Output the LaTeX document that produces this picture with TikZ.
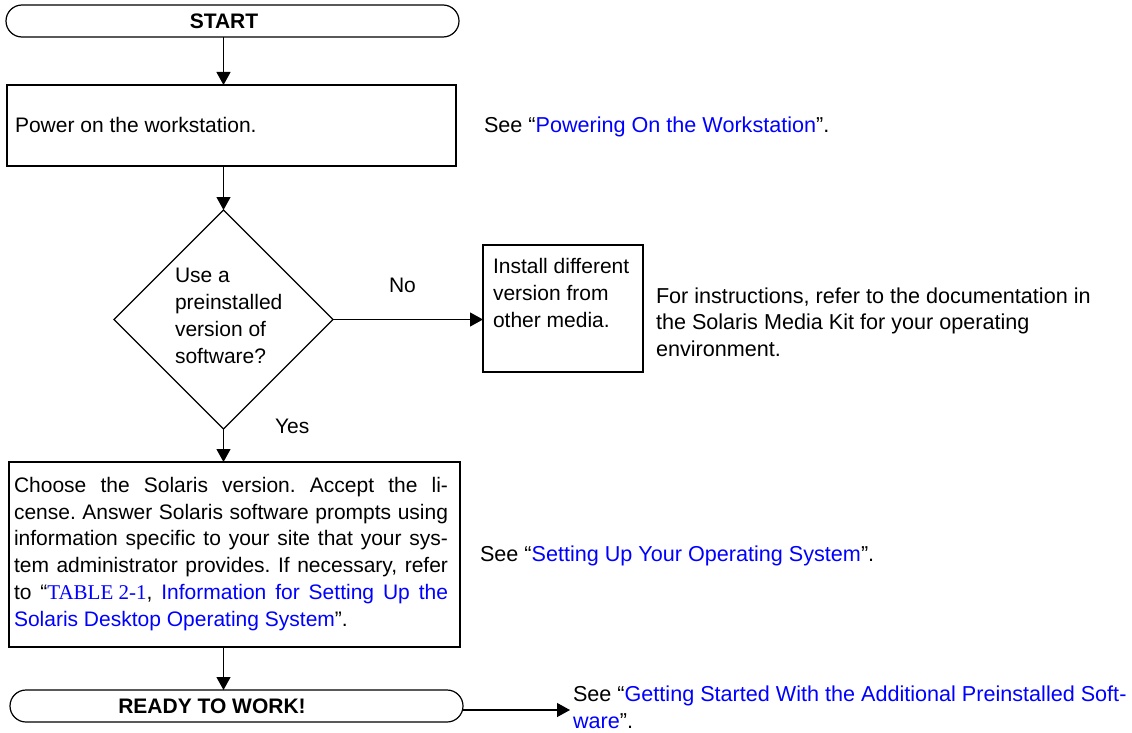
\documentclass[tikz,border=0pt]{standalone}
\usepackage{fontspec}
\setmainfont{Liberation Sans}
\newfontfamily\serifrm{Liberation Serif}
\usetikzlibrary{shapes.geometric,arrows.meta}
\definecolor{linkblue}{RGB}{0,0,255}
\frenchspacing
\begin{document}
\begin{tikzpicture}[x=1pt,y=-1pt,
  every node/.style={font=\fontsize{21pt}{26.7pt}\selectfont\frenchspacing, inner sep=0pt, outer sep=0pt},
  box/.style={draw, line width=1.2pt, rectangle},
  term/.style={draw, line width=1.2pt, rectangle, rounded corners=16pt, minimum height=32pt},
  flow/.style={line width=1.2pt, -{Triangle[length=13pt,width=14pt]}},
  lbl/.style={anchor=base west},
  side/.style={anchor=base west, font=\fontsize{21.6pt}{26.5pt}\selectfont\frenchspacing},
  boldlbl/.style={anchor=base, font=\bfseries\fontsize{21pt}{26.7pt}\selectfont},
]
\useasboundingbox (0,0) rectangle (1132,733);

% terminals and boxes
\node[term, minimum width=453pt] (start) at (232.5,21) {};
\node[boldlbl] (startt) at (224,29) {START};

\node[box, minimum width=449pt, minimum height=81pt] (power) at (231.5,125.5) {};
\node[lbl] (powert) at (15,132) {Power on the workstation.};

\node[draw, diamond, line width=1.2pt, minimum width=219pt, minimum height=219pt] (dec) at (223.5,319.5) {};
\node[lbl, align=left] (dect) at (175,363) {Use a\\preinstalled\\version of\\software?};

\node[box, minimum width=160pt, minimum height=127pt] (inst) at (563,308.5) {};
\node[lbl, align=left] (instt) at (493,327) {Install different\\version from\\other media.};

\node[box, minimum width=451pt, minimum height=185pt] (choose) at (234.5,554.5) {};
\node[lbl, align=left] (chooset) at (14,626) {%
\makebox[434pt][s]{Choose the Solaris version. Accept the li-}\\
\makebox[434pt][s]{cense. Answer Solaris software prompts using}\\
\makebox[434pt][s]{information specific to your site that your sys-}\\
\makebox[434pt][s]{tem administrator provides. If necessary, refer}\\
\makebox[434pt][s]{to “\textcolor{linkblue}{\serifrm\mbox{TABLE 2-1}}, \textcolor{linkblue}{Information for Setting Up the}}\\
\textcolor{linkblue}{Solaris Desktop Operating System}”.};

\node[term, minimum width=453pt] (ready) at (236.5,706) {};
\node[boldlbl] (readyt) at (212,713) {READY TO WORK!};

% connectors
\draw[flow] (start.south -| dec.north) -- (power.north -| dec.north);
\draw[flow] (power.south -| dec.north) -- (dec.north);
\draw[flow] (dec.east) -- (dec.east -| inst.west);
\draw[flow] (dec.south) -- (choose.north -| dec.south);
\draw[flow] (choose.south -| dec.south) -- (ready.north -| dec.south);
\coordinate (gsend) at (570,710);
\draw[flow] (ready.east |- gsend) -- (gsend);

% labels
\node[lbl] (no) at (389,292) {No};
\node[lbl] (yes) at (275,433) {Yes};
\node[side] (seepow) at (484,133) {See “\textcolor{linkblue}{Powering On the Workstation}”.};
\node[side, align=left] (forinst) at (656,356) {For instructions, refer to the documentation in\\the Solaris Media Kit for your operating\\environment.};
\node[side] (seeset) at (480,561) {See “\textcolor{linkblue}{Setting Up Your Operating System}”.};
\node[side, align=left] (seeget) at (573,728) {See “\textcolor{linkblue}{Getting Started With the Additional Preinstalled Soft-}\\\textcolor{linkblue}{ware}”.};
\end{tikzpicture}
\end{document}
